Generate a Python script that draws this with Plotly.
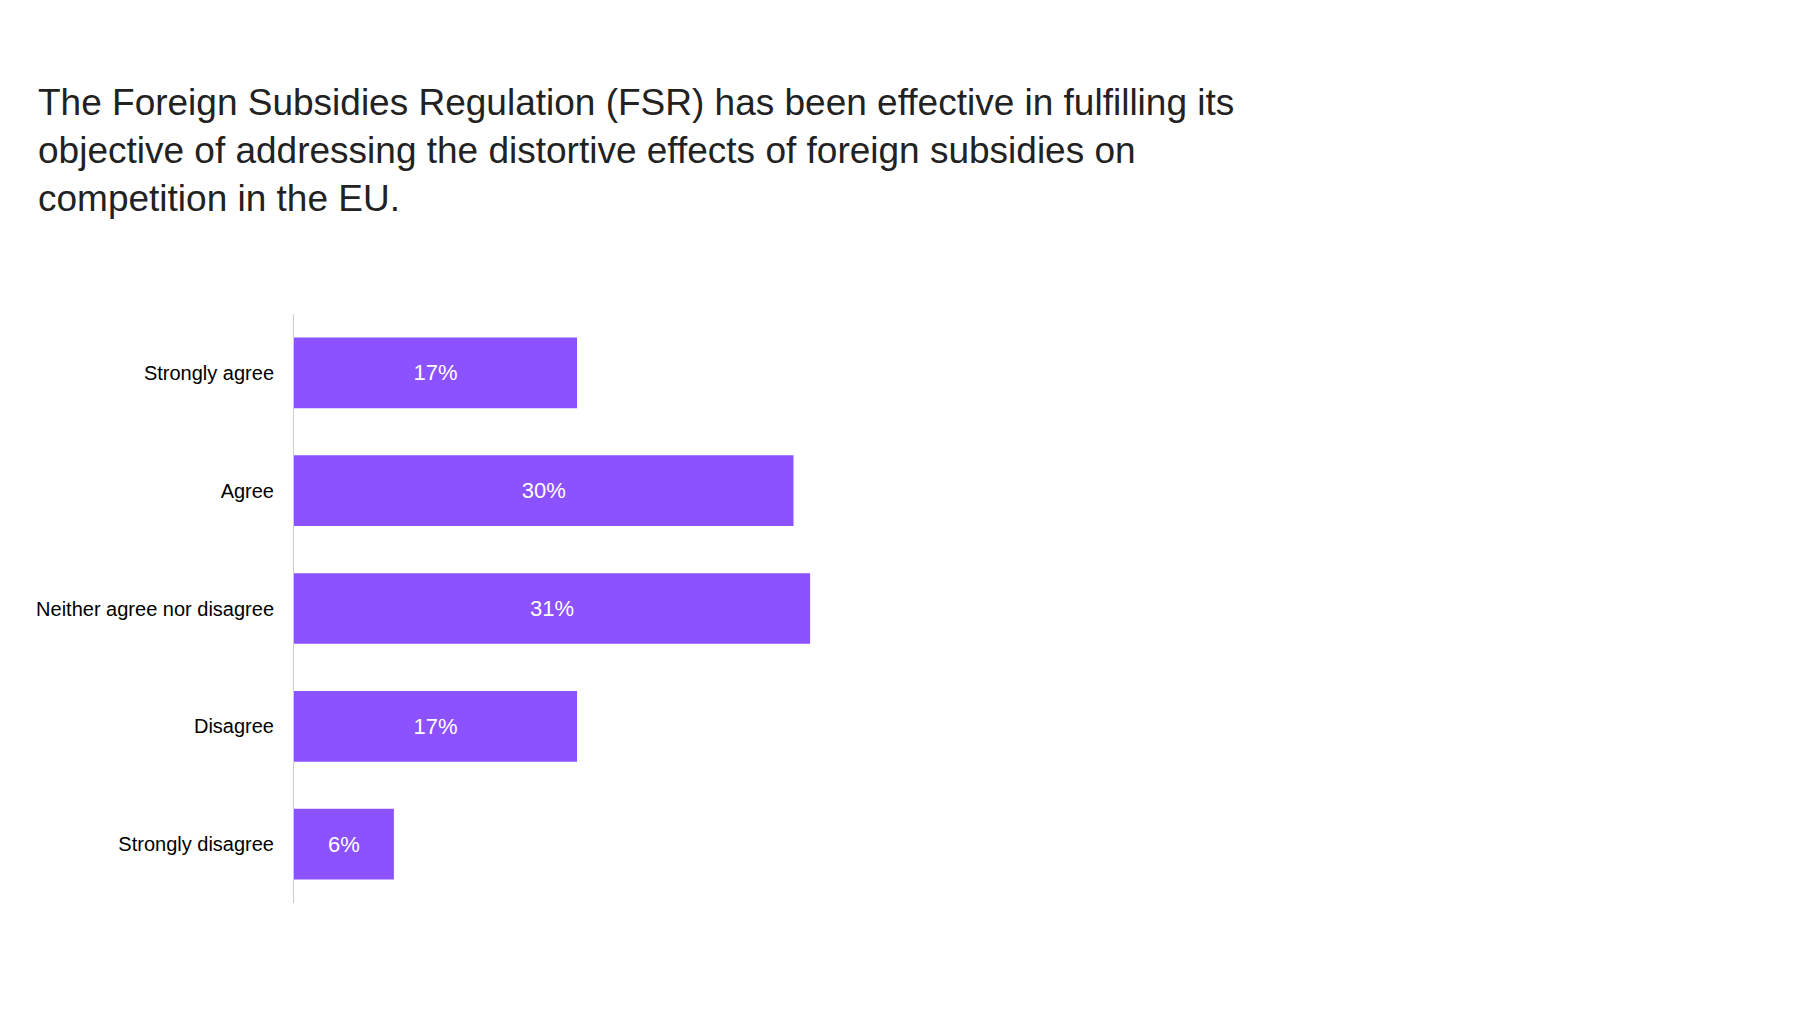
import plotly.graph_objects as go

categories = ["Strongly agree", "Agree", "Neither agree nor disagree", "Disagree", "Strongly disagree"]
values = [17, 30, 31, 17, 6]
title_lines = [
    "The Foreign Subsidies Regulation (FSR) has been effective in fulfilling its",
    "objective of addressing the distortive effects of foreign subsidies on",
    "competition in the EU.",
]

fig = go.Figure(go.Bar(
    y=categories,
    x=values,
    orientation="h",
    marker=dict(color="#8C52FF", line=dict(width=0)),
    text=[f"{v}%" for v in values],
    textposition="inside",
    insidetextanchor="middle",
    textfont=dict(color="white", size=22, family="Liberation Sans"),
    textangle=0,
    hoverinfo="skip",
))

fig.update_layout(
    width=1800,
    height=1013,
    paper_bgcolor="white",
    plot_bgcolor="white",
    margin=dict(l=286, r=182, t=306, b=118),
    bargap=0.4,
    showlegend=False,
    font=dict(family="Liberation Sans", color="#000000"),
    title=dict(
        text="<br>".join(title_lines),
        x=30 / 1800,
        xanchor="left",
        xref="container",
        y=1 - 107 / 1013,
        yanchor="top",
        yref="container",
        font=dict(size=37, color="#222222", family="Liberation Sans"),
    ),
    xaxis=dict(
        range=[0, 80],
        visible=False,
        showgrid=False,
        zeroline=False,
        fixedrange=True,
    ),
    yaxis=dict(
        autorange="reversed",
        showline=True,
        linecolor="#cccccc",
        linewidth=1,
        showgrid=False,
        zeroline=False,
        ticks="",
        ticklabelstandoff=15,
        tickfont=dict(size=20, color="#000000", family="Liberation Sans"),
    ),
)

fig.write_html("out.html")
